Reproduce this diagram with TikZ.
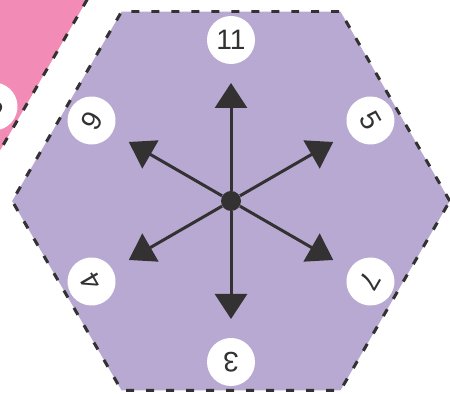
\documentclass[tikz,border=0pt]{standalone}
\usepackage{fontspec}
\setmainfont{Liberation Sans}
\usetikzlibrary{positioning, arrows.meta, calc}
\definecolor{tilepurple}{RGB}{184,169,210}
\definecolor{tilepink}{RGB}{242,139,182}
\definecolor{inkgray}{RGB}{51,49,49}

\begin{document}
\begin{tikzpicture}[x=0.02cm, y=0.02cm, font=\fontsize{16}{16}\selectfont]
    \tikzset{
        tile/.style={draw=inkgray, line width=0.06cm, dash pattern=on 0.16cm off 0.24cm},
        token/.style={circle, fill=white, text=inkgray, minimum size=0.96cm, inner sep=0pt},
        arrow/.style={draw=inkgray, line width=0.06cm, -{Triangle[width=0.64cm, length=0.5cm]}}
    }
    \useasboundingbox (0,0) rectangle (450,394);
    \clip (0,0) rectangle (450,394);
    \coordinate (mid) at (231,193);
    \coordinate (nbr) at (-129,399);
    \draw[tile, fill=tilepink] ($(nbr)+(0:218.8)$) -- ($(nbr)+(60:218.8)$) -- ($(nbr)+(120:218.8)$)
        -- ($(nbr)+(180:218.8)$) -- ($(nbr)+(240:218.8)$) -- ($(nbr)+(300:218.8)$) -- cycle;
    \draw[tile, fill=tilepurple] ($(mid)+(0:218.8)$) -- ($(mid)+(60:218.8)$) -- ($(mid)+(120:218.8)$)
        -- ($(mid)+(180:218.8)$) -- ($(mid)+(240:218.8)$) -- ($(mid)+(300:218.8)$) -- cycle;
    \node[token, rotate=-120] (n2)  at (-6.5,287.5) {2};
    \node[token]              (n11) at ($(mid)+(90:161)$)  {11};
    \node[token, rotate=-60]  (n5)  at ($(mid)+(30:161)$)  {5};
    \node[token, rotate=-120] (n7)  at ($(mid)+(-30:161)$) {7};
    \node[token, rotate=180]  (n3)  at ($(mid)+(-90:161)$) {3};
    \node[token, rotate=120]  (n4)  at ($(mid)+(210:161)$) {4};
    \node[token, rotate=60]   (n9)  at ($(mid)+(150:161)$) {9};
    \node[circle, fill=inkgray, minimum size=0.4cm, inner sep=0pt] (hub) at (mid) {};
    \coordinate (tipN)  at ($(mid)+(90:118)$);
    \coordinate (tipNE) at ($(mid)+(30:118)$);
    \coordinate (tipSE) at ($(mid)+(-30:118)$);
    \coordinate (tipS)  at ($(mid)+(-90:118)$);
    \coordinate (tipSW) at ($(mid)+(210:118)$);
    \coordinate (tipNW) at ($(mid)+(150:118)$);
    \draw[arrow] (hub) -- (tipN);
    \draw[arrow] (hub) -- (tipNE);
    \draw[arrow] (hub) -- (tipSE);
    \draw[arrow] (hub) -- (tipS);
    \draw[arrow] (hub) -- (tipSW);
    \draw[arrow] (hub) -- (tipNW);
\end{tikzpicture}
\end{document}
